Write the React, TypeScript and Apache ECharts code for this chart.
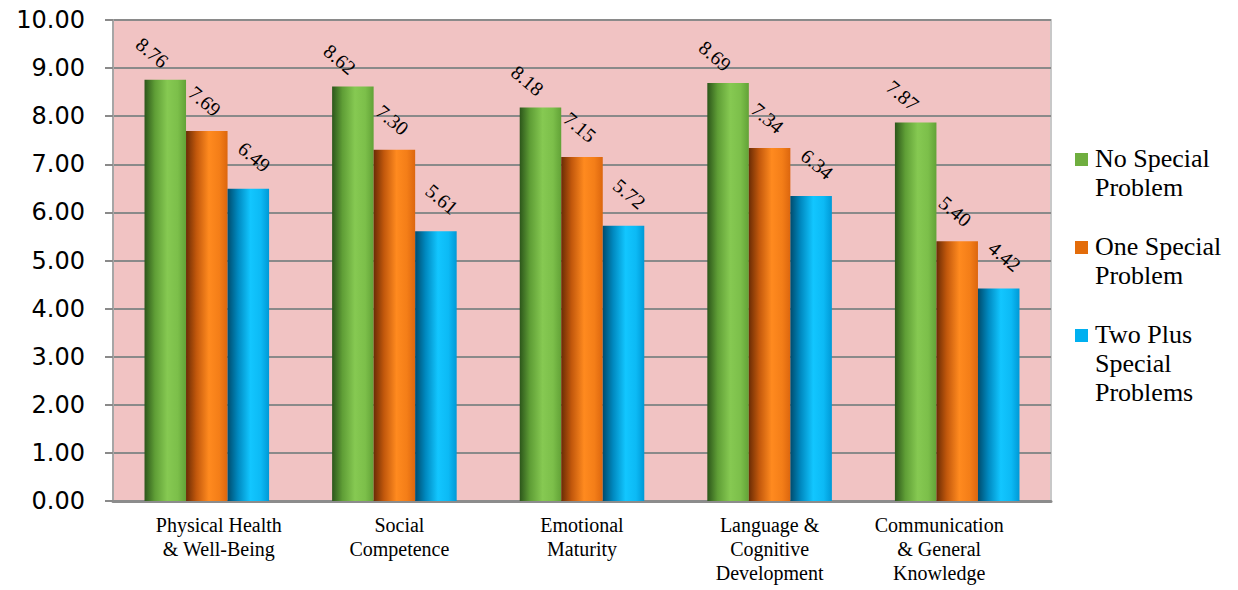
import React, { useEffect, useRef } from "react";
import * as echarts from "echarts";

const categories = [
  "Physical Health\n& Well-Being",
  "Social\nCompetence",
  "Emotional\nMaturity",
  "Language &\nCognitive\nDevelopment",
  "Communication\n& General\nKnowledge",
];
const categoryShift = [24, 10, 0, 0, -36];
const seriesNames = ["No Special Problem", "One Special Problem", "Two Plus Special Problems"];
const legendLabels = ["No Special\nProblem", "One Special\nProblem", "Two Plus\nSpecial\nProblems"];
const noSpecial = [8.76, 8.62, 8.18, 8.69, 7.87];
const oneSpecial = [7.69, 7.3, 7.15, 7.34, 5.4];
const twoPlus = [6.49, 5.61, 5.72, 6.34, 4.42];
const yMin = 0;
const yMax = 10;
const yInterval = 1;

const SERIF = "'Liberation Serif', 'Times New Roman', serif";
const legendColors = ["#6fae3f", "#e36c0a", "#00b0f0"];
const gradients = [
  ["#2c561a", "#5f9e36", "#86c952", "#7cbf4a", "#62a237"],
  ["#6a2c05", "#c2580c", "#ff8a1f", "#f47e18", "#dc660e"],
  ["#004c6e", "#0089c0", "#12c6ff", "#0cbaf5", "#0099d6"],
];
// desired on-screen shift of label centre from the bar's top centre
const labelShift = [[-13, -27], [-2, -30], [6, -32]];
const LABEL_ROT = 40;

function localOffset(s: number[]) {
  const t = (LABEL_ROT * Math.PI) / 180;
  const c = Math.cos(t);
  const n = Math.sin(t);
  return [s[0] * c + s[1] * n, -s[0] * n + s[1] * c];
}

function barGradient(c: string[]) {
  return new echarts.graphic.LinearGradient(0, 0, 1, 0, [
    { offset: 0, color: c[0] },
    { offset: 0.25, color: c[1] },
    { offset: 0.55, color: c[2] },
    { offset: 0.8, color: c[3] },
    { offset: 1, color: c[4] },
  ]);
}

export default function App() {
  const ref = useRef<HTMLDivElement>(null);
  useEffect(() => {
    if (!ref.current) return;
    const chart = echarts.init(ref.current, null, { renderer: "svg" });
    const allData = [noSpecial, oneSpecial, twoPlus];
    const series = allData.map((d, i) => ({
      name: seriesNames[i],
      type: "bar",
      data: d,
      barGap: "0%",
      barCategoryGap: "33.6%",
      itemStyle: { color: barGradient(gradients[i]) },
      label: {
        show: true,
        position: "top",
        distance: 0,
        rotate: -LABEL_ROT,
        align: "center",
        verticalAlign: "middle",
        offset: localOffset(labelShift[i]),
        formatter: (p: any) => Number(p.value).toFixed(2),
        fontFamily: SERIF,
        fontSize: 20,
        color: "#000",
      },
    }));

    const graphic: any[] = [];
    const legendTops = [144, 232, 320];
    legendLabels.forEach((t, i) => {
      graphic.push({
        type: "rect",
        left: 1075,
        top: legendTops[i] + 9,
        shape: { width: 13, height: 13 },
        style: { fill: legendColors[i] },
      });
      graphic.push({
        type: "text",
        left: 1095,
        top: legendTops[i],
        style: {
          text: t,
          fontFamily: SERIF,
          fontSize: 26,
          lineHeight: 29,
          fill: "#000",
        },
      });
    });

    chart.setOption({
      animation: false,
      textStyle: { fontFamily: SERIF },
      grid: {
        left: 113,
        right: 187,
        top: 20,
        bottom: 89,
        show: true,
        backgroundColor: "#f1c3c3",
        borderColor: "#c8c8c8",
        borderWidth: 2,
      },
      legend: { show: false },
      xAxis: {
        type: "category",
        data: categories.map((c, i) => ({
          value: c,
          textStyle: {
            padding: categoryShift[i] >= 0 ? [0, 0, 0, categoryShift[i]] : [0, -categoryShift[i], 0, 0],
          },
        })),
        axisLine: { show: true, lineStyle: { color: "#8c8c8c", width: 3 } },
        axisTick: { show: false },
        axisLabel: {
          interval: 0,
          margin: 12,
          fontFamily: SERIF,
          fontSize: 20,
          lineHeight: 24,
          color: "#000",
        },
      },
      yAxis: {
        type: "value",
        min: yMin,
        max: yMax,
        interval: yInterval,
        axisLine: { show: true, lineStyle: { color: "#a6a6a6", width: 2 } },
        axisTick: { show: true, length: 8, lineStyle: { color: "#8a8a8a", width: 2 } },
        splitLine: { show: true, lineStyle: { color: "#8a8a8a", width: 2 } },
        axisLabel: {
          margin: 28,
          fontFamily: "DejaVu Sans",
          fontSize: 24,
          color: "#000",
          formatter: (v: number) => v.toFixed(2),
        },
      },
      series,
      graphic,
    });
    return () => chart.dispose();
  }, []);
  return (
    <div
      ref={ref}
      style={{ position: "absolute", left: 0, top: 0, width: 1238, height: 590, background: "#fff" }}
    />
  );
}
